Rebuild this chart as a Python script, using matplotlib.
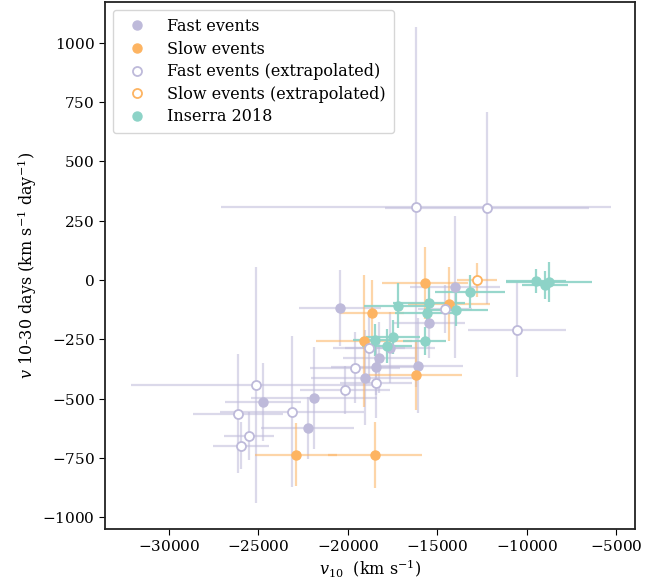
import matplotlib
matplotlib.use("Agg")
import matplotlib.pyplot as plt
from matplotlib.lines import Line2D

plt.rcParams['font.family'] = ['DejaVu Serif']
plt.rcParams['mathtext.fontset'] = 'dejavuserif'
plt.rcParams['axes.formatter.use_mathtext'] = True

PURPLE = '#bebada'
ORANGE = '#fdb462'
TEAL = '#8dd3c7'

# Fast events (measured)
fast_x = [-20435, -14010, -15463, -18256, -18424, -19038, -16077, -17642, -24737, -21888, -22223]
fast_y = [-118, -29, -181, -328, -366, -413, -362, -286, -514, -497, -623]
fast_xerr = [2300, 2500, 2000, 2000, 2500, 3000, 2500, 2500, 2100, 3500, 2600]
fast_yerr = [160, 300, 150, 150, 120, 200, 200, 150, 165, 215, 130]

# Slow events (measured)
slow_x = [-15686, -18647, -14345, -19094, -16189, -22893, -18480]
slow_y = [-13, -139, -101, -257, -400, -737, -737]
slow_xerr = [2400, 1800, 2300, 2700, 2600, 2300, 2650]
slow_yerr = [150, 140, 155, 280, 147, 132, 140]

# Fast events (extrapolated)
fastx_x = [-16189, -12222, -10546, -14569, -18815, -19597, -20156, -18424, -25128, -26134, -23117, -25519, -25966]
fastx_y = [307, 303, -210, -122, -286, -370, -463, -434, -442, -564, -556, -657, -699]
fastx_xerr = [10900, 5700, 2760, 1500, 2000, 2500, 2500, 2000, 7000, 2500, 4000, 1400, 1550]
fastx_yerr = [758, 404, 200, 100, 150, 150, 100, 150, 497, 250, 318, 100, 100]

# Slow events (extrapolated)
slowx_x = [-12781]
slowx_y = [0]
slowx_xerr = [1100]
slowx_yerr = [72]

# Inserra 2018
ins_x = [-9485, -8982, -8758, -13172, -13954, -17195, -15463, -15574, -18480, -17474, -17809, -15686]
ins_y = [-4, -21, -8, -50, -126, -109, -97, -139, -253, -240, -278, -257]
ins_xerr = [1700, 1300, 2400, 1950, 1800, 1900, 2000, 1800, 1200, 1500, 1400, 1200]
ins_yerr = [50, 60, 85, 70, 70, 95, 80, 60, 67, 70, 70, 60]

fig = plt.figure(figsize=(6.67, 5.81), dpi=100)
ax = fig.add_axes([0.1574, 0.0895, 0.7946, 0.907])

ms = 6.5
eb_kw = dict(fmt='none', elinewidth=1.6, alpha=0.55, capsize=0, zorder=1)

ax.errorbar(fastx_x, fastx_y, xerr=fastx_xerr, yerr=fastx_yerr, ecolor=PURPLE, **eb_kw)
ax.errorbar(fast_x, fast_y, xerr=fast_xerr, yerr=fast_yerr, ecolor=PURPLE, **eb_kw)
ax.errorbar(slow_x, slow_y, xerr=slow_xerr, yerr=slow_yerr, ecolor=ORANGE, **eb_kw)
ax.errorbar(slowx_x, slowx_y, xerr=slowx_xerr, yerr=slowx_yerr, ecolor=ORANGE, **eb_kw)
ax.errorbar(ins_x, ins_y, xerr=ins_xerr, yerr=ins_yerr, ecolor=TEAL,
            fmt='none', elinewidth=1.6, alpha=0.9, capsize=0, zorder=1)

ax.plot(fast_x, fast_y, 'o', color=PURPLE, ms=ms, zorder=3)
ax.plot(slow_x, slow_y, 'o', color=ORANGE, ms=ms, zorder=3)
ax.plot(fastx_x, fastx_y, 'o', mfc='white', mec=PURPLE, mew=1.3, ms=ms, zorder=3)
ax.plot(slowx_x, slowx_y, 'o', mfc='white', mec=ORANGE, mew=1.3, ms=ms, zorder=3)
ax.plot(ins_x, ins_y, 'o', color=TEAL, ms=ms, zorder=3)

handles = [
    Line2D([], [], ls='none', marker='o', color=PURPLE, ms=ms),
    Line2D([], [], ls='none', marker='o', color=ORANGE, ms=ms),
    Line2D([], [], ls='none', marker='o', mfc='white', mec=PURPLE, mew=1.3, ms=ms),
    Line2D([], [], ls='none', marker='o', mfc='white', mec=ORANGE, mew=1.3, ms=ms),
    Line2D([], [], ls='none', marker='o', color=TEAL, ms=ms),
]
labels = ['Fast events', 'Slow events', 'Fast events (extrapolated)',
          'Slow events (extrapolated)', 'Inserra 2018']
ax.legend(handles, labels, loc='upper left', fontsize=11.5, frameon=True,
          handletextpad=0.9, borderpad=0.5, labelspacing=0.35)

ax.set_xlim(-33564, -3950)
ax.set_ylim(-1050, 1172)
ax.set_xticks([-30000, -25000, -20000, -15000, -10000, -5000])
ax.set_yticks([-1000, -750, -500, -250, 0, 250, 500, 750, 1000])
ax.tick_params(labelsize=11, direction='out', length=4, top=False, right=False)
for s in ax.spines.values():
    s.set_linewidth(1.3)
    s.set_color('#222222')

ax.set_xlabel(r'$v_{10}$  (km s$^{-1}$)', fontsize=11.5, labelpad=2)
ax.set_ylabel(r'$v$ 10-30 days (km s$^{-1}$ day$^{-1}$)', fontsize=11.5, labelpad=2)

fig.savefig('out.png', dpi=100)
